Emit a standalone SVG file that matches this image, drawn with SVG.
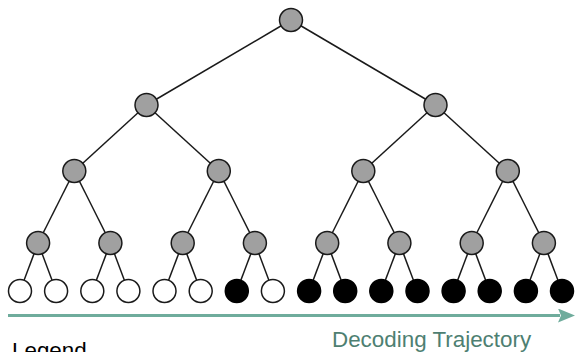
<svg xmlns="http://www.w3.org/2000/svg" width="575" height="352" viewBox="0 0 575 352">
  <defs>
    <style>
      .edge { stroke: #1a1a1a; stroke-width: 1.5; fill: none; }
      .inner { fill: #a0a0a0; stroke: #1a1a1a; stroke-width: 1.5; }
      .open { fill: #ffffff; stroke: #1a1a1a; stroke-width: 1.5; }
      .done { fill: #000000; stroke: #000000; stroke-width: 1.5; }
      .label { font-family: "Liberation Sans", Arial, sans-serif; font-size: 22.4px; }
    </style>
    <marker id="arrowhead" viewBox="0 0 17 14" refX="2" refY="7" markerWidth="17" markerHeight="14" orient="auto" markerUnits="userSpaceOnUse">
      <path d="M0,0 L17,7 L0,14 L3,7 z" fill="#6fac9c"/>
    </marker>
  </defs>
  <rect width="575" height="352" fill="#ffffff"/>

  <!-- tree edges -->
  <g id="connectors">
    <line class="edge" x1="291" y1="20" x2="146.5" y2="105"/>
    <line class="edge" x1="291" y1="20" x2="435.5" y2="105"/>
    <line class="edge" x1="146.5" y1="105" x2="74.3" y2="171"/>
    <line class="edge" x1="146.5" y1="105" x2="218.8" y2="171"/>
    <line class="edge" x1="435.5" y1="105" x2="363.3" y2="171"/>
    <line class="edge" x1="435.5" y1="105" x2="507.8" y2="171"/>
    <line class="edge" x1="74.3" y1="171" x2="38.1" y2="243"/>
    <line class="edge" x1="74.3" y1="171" x2="110.4" y2="243"/>
    <line class="edge" x1="218.8" y1="171" x2="182.7" y2="243"/>
    <line class="edge" x1="218.8" y1="171" x2="254.9" y2="243"/>
    <line class="edge" x1="363.3" y1="171" x2="327.2" y2="243"/>
    <line class="edge" x1="363.3" y1="171" x2="399.4" y2="243"/>
    <line class="edge" x1="507.8" y1="171" x2="471.7" y2="243"/>
    <line class="edge" x1="507.8" y1="171" x2="543.9" y2="243"/>
    <line class="edge" x1="38.1" y1="243" x2="20" y2="291"/>
    <line class="edge" x1="38.1" y1="243" x2="56.1" y2="291"/>
    <line class="edge" x1="110.4" y1="243" x2="92.3" y2="291"/>
    <line class="edge" x1="110.4" y1="243" x2="128.4" y2="291"/>
    <line class="edge" x1="182.7" y1="243" x2="164.5" y2="291"/>
    <line class="edge" x1="182.7" y1="243" x2="200.7" y2="291"/>
    <line class="edge" x1="254.9" y1="243" x2="236.8" y2="291"/>
    <line class="edge" x1="254.9" y1="243" x2="272.9" y2="291"/>
    <line class="edge" x1="327.2" y1="243" x2="309.1" y2="291"/>
    <line class="edge" x1="327.2" y1="243" x2="345.2" y2="291"/>
    <line class="edge" x1="399.4" y1="243" x2="381.3" y2="291"/>
    <line class="edge" x1="399.4" y1="243" x2="417.5" y2="291"/>
    <line class="edge" x1="471.7" y1="243" x2="453.6" y2="291"/>
    <line class="edge" x1="471.7" y1="243" x2="489.7" y2="291"/>
    <line class="edge" x1="543.9" y1="243" x2="525.9" y2="291"/>
    <line class="edge" x1="543.9" y1="243" x2="562" y2="291"/>
  </g>

  <!-- internal nodes -->
  <g id="n0"><circle class="inner" cx="291" cy="20" r="11.5"/></g>
  <g id="n1"><circle class="inner" cx="146.5" cy="105" r="11.5"/></g>
  <g id="n2"><circle class="inner" cx="435.5" cy="105" r="11.5"/></g>
  <g id="n3"><circle class="inner" cx="74.3" cy="171" r="11.5"/></g>
  <g id="n4"><circle class="inner" cx="218.8" cy="171" r="11.5"/></g>
  <g id="n5"><circle class="inner" cx="363.3" cy="171" r="11.5"/></g>
  <g id="n6"><circle class="inner" cx="507.8" cy="171" r="11.5"/></g>
  <g id="n7"><circle class="inner" cx="38.1" cy="243" r="11.5"/></g>
  <g id="n8"><circle class="inner" cx="110.4" cy="243" r="11.5"/></g>
  <g id="n9"><circle class="inner" cx="182.7" cy="243" r="11.5"/></g>
  <g id="n10"><circle class="inner" cx="254.9" cy="243" r="11.5"/></g>
  <g id="n11"><circle class="inner" cx="327.2" cy="243" r="11.5"/></g>
  <g id="n12"><circle class="inner" cx="399.4" cy="243" r="11.5"/></g>
  <g id="n13"><circle class="inner" cx="471.7" cy="243" r="11.5"/></g>
  <g id="n14"><circle class="inner" cx="543.9" cy="243" r="11.5"/></g>

  <!-- leaves -->
  <g id="leaf0"><circle class="open" cx="20" cy="291" r="11.5"/></g>
  <g id="leaf1"><circle class="open" cx="56.1" cy="291" r="11.5"/></g>
  <g id="leaf2"><circle class="open" cx="92.3" cy="291" r="11.5"/></g>
  <g id="leaf3"><circle class="open" cx="128.4" cy="291" r="11.5"/></g>
  <g id="leaf4"><circle class="open" cx="164.5" cy="291" r="11.5"/></g>
  <g id="leaf5"><circle class="open" cx="200.7" cy="291" r="11.5"/></g>
  <g id="leaf6"><circle class="done" cx="236.8" cy="291" r="11.5"/></g>
  <g id="leaf7"><circle class="open" cx="272.9" cy="291" r="11.5"/></g>
  <g id="leaf8"><circle class="done" cx="309.1" cy="291" r="11.5"/></g>
  <g id="leaf9"><circle class="done" cx="345.2" cy="291" r="11.5"/></g>
  <g id="leaf10"><circle class="done" cx="381.3" cy="291" r="11.5"/></g>
  <g id="leaf11"><circle class="done" cx="417.5" cy="291" r="11.5"/></g>
  <g id="leaf12"><circle class="done" cx="453.6" cy="291" r="11.5"/></g>
  <g id="leaf13"><circle class="done" cx="489.7" cy="291" r="11.5"/></g>
  <g id="leaf14"><circle class="done" cx="525.9" cy="291" r="11.5"/></g>
  <g id="leaf15"><circle class="done" cx="562" cy="291" r="11.5"/></g>

  <!-- decoding direction -->
  <g id="trajectory">
    <line x1="8" y1="315.5" x2="560" y2="315.5" stroke="#6fac9c" stroke-width="3" marker-end="url(#arrowhead)"/>
    <text class="label" x="332" y="347" fill="#4e7f72">Decoding Trajectory</text>
  </g>

  <g id="legend">
    <text class="label" x="12" y="358" fill="#000000">Legend</text>
  </g>
</svg>
